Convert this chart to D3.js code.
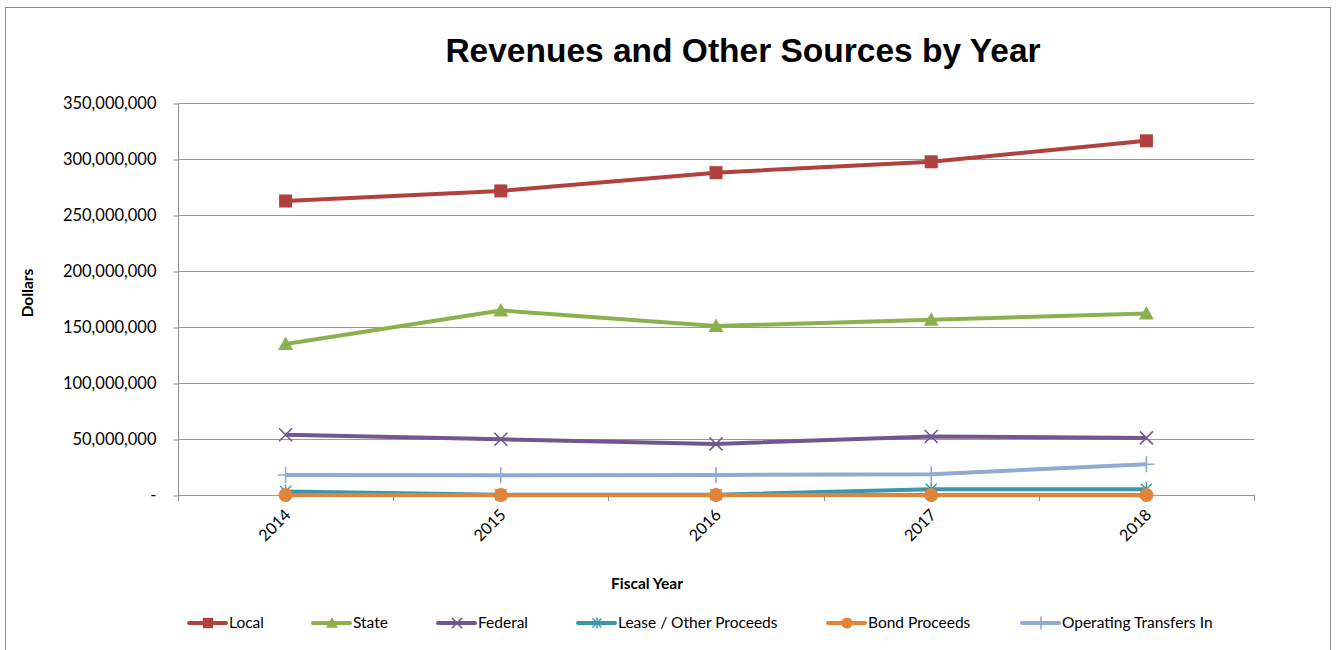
<!DOCTYPE html>
<html>
<head>
<meta charset="utf-8">
<script src="https://cdn.jsdelivr.net/npm/d3@7"></script>
<style>
  html, body { margin: 0; padding: 0; background: #fff; }
  svg { display: block; }
</style>
</head>
<body>
<svg id="chart" width="1336" height="650"></svg>
<script>
// Fiscal years on the category axis
const years = ["2014", "2015", "2016", "2017", "2018"];

// Revenue series, in dollars
const local     = [262500000, 271500000, 287800000, 297500000, 316200000];
const state     = [134800000, 164800000, 150900000, 156500000, 162000000];
const federal   = [53800000, 49800000, 45600000, 52200000, 51000000];
const lease     = [3200000, 200000, 300000, 5100000, 5100000];
const bond      = [0, 0, 0, 0, 0];
const transfers = [17900000, 17600000, 17900000, 18500000, 27400000];

const yTicks = [0, 50000000, 100000000, 150000000, 200000000, 250000000, 300000000, 350000000];

const seriesNames  = ["Local", "State", "Federal", "Lease / Other Proceeds", "Bond Proceeds", "Operating Transfers In"];
const seriesValues = [local, state, federal, lease, bond, transfers];
const seriesColors = ["#B0413E", "#8DB04E", "#70588F", "#3A97AC", "#E2833A", "#91AACF"];
const seriesMarkers = ["square", "triangle", "x", "asterisk", "circle", "plus"];

const svg = d3.select("#chart");
const plot = { left: 178, right: 1254, top: 103, bottom: 495 };
const bodyFont = "Lato, 'Open Sans', sans-serif";

// Outer chart frame
svg.append("rect")
  .attr("x", 5.5).attr("y", 7.5)
  .attr("width", 1325).attr("height", 650)
  .attr("fill", "#fff").attr("stroke", "#8c8c8c").attr("stroke-width", 1);

const x = d3.scaleBand().domain(years).range([plot.left, plot.right]);
const y = d3.scaleLinear().domain([0, 350000000]).range([plot.bottom, plot.top]);
const cx = d => x(d) + x.bandwidth() / 2;

// y axis with tick labels
const yAxis = d3.axisLeft(y)
  .tickValues(yTicks)
  .tickSize(5)
  .tickPadding(17)
  .tickFormat(v => v === 0 ? "-" : d3.format(",")(v));

const gY = svg.append("g")
  .attr("transform", `translate(${plot.left + 0.5},0.5)`)
  .call(yAxis);
gY.select(".domain").attr("stroke", "#8c8c8c").attr("d", `M0,${plot.top}V${plot.bottom}`);
gY.selectAll(".tick line").attr("stroke", "#8c8c8c").attr("x1", -5).attr("x2", 0);
gY.selectAll(".tick text")
  .attr("font-family", bodyFont)
  .attr("font-size", 16.5).attr("fill", "#000");

// Horizontal gridlines
svg.append("g").selectAll("line")
  .data(yTicks)
  .join("line")
  .attr("x1", plot.left).attr("x2", plot.right)
  .attr("y1", d => Math.round(y(d)) + 0.5).attr("y2", d => Math.round(y(d)) + 0.5)
  .attr("stroke", "#999").attr("stroke-width", 1.2);

// x axis: ticks at category boundaries
const boundaries = years.map(d => x(d)).concat([plot.right]);
svg.append("g").selectAll("line")
  .data(boundaries)
  .join("line")
  .attr("x1", d => Math.round(d) + 0.5).attr("x2", d => Math.round(d) + 0.5)
  .attr("y1", plot.bottom).attr("y2", plot.bottom + 6)
  .attr("stroke", "#8c8c8c");

svg.append("g").selectAll("text")
  .data(years)
  .join("text")
  .attr("transform", d => `translate(${cx(d) + 2},${plot.bottom + 17}) rotate(-45)`)
  .attr("text-anchor", "end")
  .attr("dy", "0.35em")
  .attr("font-family", bodyFont)
  .attr("font-size", 16)
  .text(d => d);

// Titles
svg.append("text")
  .attr("x", 743).attr("y", 62)
  .attr("text-anchor", "middle")
  .attr("font-family", "'Liberation Sans', Arial, sans-serif")
  .attr("font-weight", "bold").attr("font-size", 33.5)
  .text("Revenues and Other Sources by Year");

svg.append("text")
  .attr("transform", "translate(33,293) rotate(-90)")
  .attr("text-anchor", "middle")
  .attr("font-family", bodyFont)
  .attr("font-weight", "bold").attr("font-size", 15.5)
  .text("Dollars");

svg.append("text")
  .attr("x", 647).attr("y", 589)
  .attr("text-anchor", "middle")
  .attr("font-family", bodyFont)
  .attr("font-weight", "bold").attr("font-size", 15.5)
  .text("Fiscal Year");

// Marker drawing
function drawMarker(g, type, color, px, py, scale = 1) {
  const s = scale;
  if (type === "square") {
    g.append("rect").attr("x", px - 6.5 * s).attr("y", py - 6.5 * s)
      .attr("width", 13 * s).attr("height", 13 * s).attr("fill", color);
  } else if (type === "triangle") {
    g.append("path")
      .attr("d", `M${px},${py - 7.5 * s}L${px + 7.5 * s},${py + 6 * s}L${px - 7.5 * s},${py + 6 * s}Z`)
      .attr("fill", color);
  } else if (type === "circle") {
    g.append("circle").attr("cx", px).attr("cy", py).attr("r", 7 * s).attr("fill", color);
  } else if (type === "x") {
    const r = 6.5 * s;
    g.append("path")
      .attr("d", `M${px - r},${py - r}L${px + r},${py + r}M${px - r},${py + r}L${px + r},${py - r}`)
      .attr("stroke", color).attr("stroke-width", 1.6).attr("fill", "none");
  } else if (type === "asterisk") {
    const r = 5.5 * s;
    g.append("path")
      .attr("d", `M${px - r},${py - r}L${px + r},${py + r}M${px - r},${py + r}L${px + r},${py - r}M${px},${py - 7 * s}V${py + 7 * s}`)
      .attr("stroke", color).attr("stroke-width", 1.4).attr("fill", "none");
  } else if (type === "plus") {
    const r = 8 * s;
    g.append("path")
      .attr("d", `M${px - r},${py}H${px + r}M${px},${py - r}V${py + r}`)
      .attr("stroke", color).attr("stroke-width", 1.6).attr("fill", "none");
  }
}

// Series lines and markers
const line = d3.line().x((d, i) => cx(years[i])).y(d => y(d));
seriesValues.forEach((vals, k) => {
  const g = svg.append("g");
  g.append("path")
    .attr("d", line(vals))
    .attr("fill", "none")
    .attr("stroke", seriesColors[k])
    .attr("stroke-width", 4)
    .attr("stroke-linejoin", "round");
  vals.forEach((v, i) => drawMarker(g, seriesMarkers[k], seriesColors[k], cx(years[i]), y(v)));
});

// Legend
const legendX = [189, 313, 438, 578, 828, 1022];
const legendY = 623;
seriesNames.forEach((name, k) => {
  const g = svg.append("g");
  const lx = legendX[k];
  g.append("line")
    .attr("x1", lx).attr("x2", lx + 37)
    .attr("y1", legendY).attr("y2", legendY)
    .attr("stroke", seriesColors[k]).attr("stroke-width", 4)
    .attr("stroke-linecap", "round");
  drawMarker(g, seriesMarkers[k], seriesColors[k], lx + 19, legendY, 0.8);
  g.append("text")
    .attr("x", lx + 40).attr("y", legendY)
    .attr("dy", "0.35em")
    .attr("font-family", bodyFont)
    .attr("font-size", 15.5)
    .text(name);
});
</script>
</body>
</html>
